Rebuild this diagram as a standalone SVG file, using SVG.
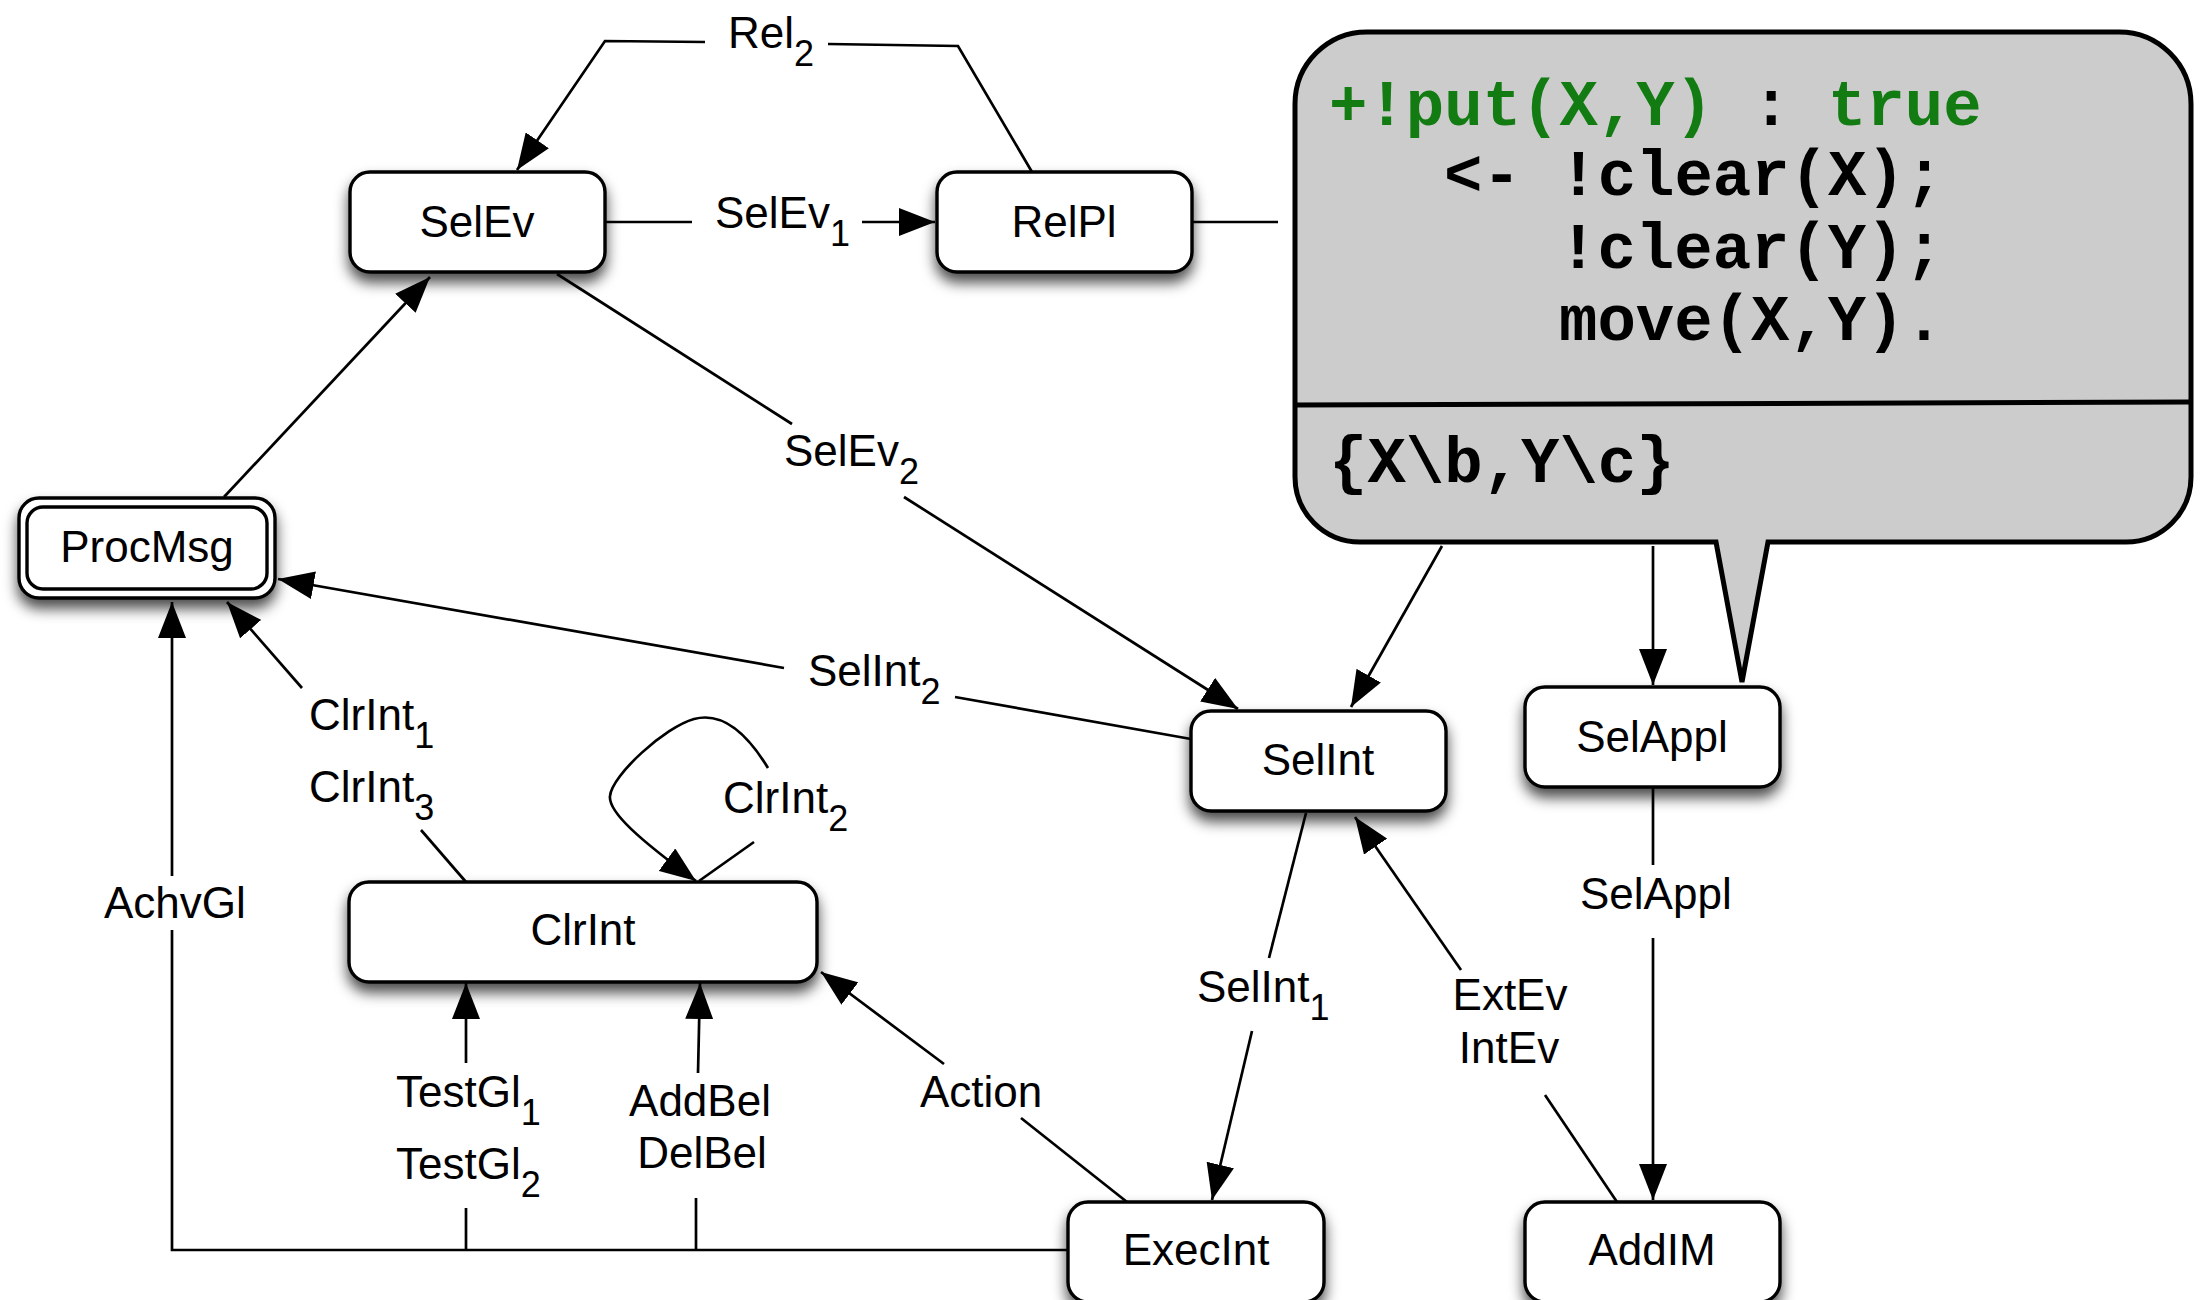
<svg xmlns="http://www.w3.org/2000/svg" width="2204" height="1300" viewBox="0 0 2204 1300">
<defs>
<filter id="sh" x="-20%" y="-30%" width="140%" height="180%">
<feDropShadow dx="0" dy="9" stdDeviation="7" flood-color="#000" flood-opacity="0.7"/>
</filter>
<marker id="ah" viewBox="0 0 36 28" refX="36" refY="14" markerWidth="36" markerHeight="28" markerUnits="userSpaceOnUse" orient="auto">
<path d="M0,0 L36,14 L0,28 z" fill="#000"/>
</marker>
</defs>
<style>
.n rect{fill:#fff;stroke:#000;stroke-width:3.4}
.t{font-family:"Liberation Sans",Arial,sans-serif;font-size:44px;fill:#000}
.c{text-anchor:middle}
.e line,.e polyline,.e path{fill:none;stroke:#000;stroke-width:2.7}
.a{marker-end:url(#ah)}
.s{font-size:36px}
.m{font-family:"Liberation Mono","Courier New",monospace;font-size:64px;font-weight:bold;fill:#000}
.g{fill:#127c12}
</style>
<rect width="2204" height="1300" fill="#fff"/>

<g id="callout">
<path d="M1367,32 H2119 A72,72 0 0 1 2191,104 V477 A65,65 0 0 1 2126,542 H1768 L1742,682 L1716,542 H1360 A65,65 0 0 1 1295,477 V104 A72,72 0 0 1 1367,32 Z" fill="#cccccc" stroke="#000" stroke-width="5"/>
<line x1="1295" y1="405" x2="2191" y2="402" stroke="#000" stroke-width="5"/>
<text class="m" x="1329" y="125"><tspan class="g">+!put(X,Y)</tspan><tspan x="1752">:</tspan><tspan class="g" x="1828">true</tspan></text>
<text class="m" x="1444" y="195">&lt;- !clear(X);</text>
<text class="m" x="1559" y="268">!clear(Y);</text>
<text class="m" x="1559" y="340">move(X,Y).</text>
<text class="m" x="1329" y="482">{X\b,Y\c}</text>
</g>

<g id="connectors" class="e">
<polyline points="1032,172 958,46 828,44"/>
<polyline class="a" points="705,42 605,41 517,170"/>
<line x1="605" y1="222" x2="692" y2="222"/>
<line class="a" x1="862" y1="222" x2="935" y2="222"/>
<line x1="557" y1="274" x2="792" y2="424"/>
<line class="a" x1="904" y1="497" x2="1238" y2="709"/>
<line class="a" x1="224" y1="497" x2="430" y2="277"/>
<line x1="1191" y1="739" x2="955" y2="697"/>
<line class="a" x1="784" y1="668" x2="278" y2="579"/>
<line x1="466" y1="882" x2="421" y2="830"/>
<line class="a" x1="302" y1="688" x2="227" y2="602"/>
<polyline points="1068,1250 172,1250 172,930"/>
<line class="a" x1="172" y1="876" x2="172" y2="602"/>
<line x1="466" y1="1250" x2="466" y2="1208"/>
<line class="a" x1="466" y1="1063" x2="466" y2="983"/>
<line x1="696" y1="1250" x2="696" y2="1198"/>
<line class="a" x1="698" y1="1073" x2="700" y2="983"/>
<line x1="1127" y1="1202" x2="1021" y2="1118"/>
<line class="a" x1="944" y1="1064" x2="821" y2="972"/>
<line x1="1306" y1="813" x2="1269" y2="958"/>
<line class="a" x1="1252" y1="1031" x2="1212" y2="1200"/>
<line x1="1617" y1="1202" x2="1545" y2="1095"/>
<line class="a" x1="1461" y1="970" x2="1355" y2="817"/>
<line x1="1653" y1="787" x2="1653" y2="865"/>
<line class="a" x1="1653" y1="938" x2="1653" y2="1200"/>
<line x1="1192" y1="222" x2="1278" y2="222"/>
<line class="a" x1="1442" y1="546" x2="1351" y2="707"/>
<line class="a" x1="1653" y1="546" x2="1653" y2="685"/>
<line x1="699" y1="881" x2="754" y2="842"/>
<path class="a" d="M768,768 C745,730 720,712 694,719 C665,727 612,775 610,796 C608,812 640,840 696,881"/>
</g>

<g id="labels">
<text class="t" x="728" y="48">Rel<tspan class="s" dy="18">2</tspan></text>
<text class="t" x="715" y="228">SelEv<tspan class="s" dy="18">1</tspan></text>
<text class="t" x="784" y="466">SelEv<tspan class="s" dy="18">2</tspan></text>
<text class="t" x="808" y="686">SelInt<tspan class="s" dy="18">2</tspan></text>
<text class="t" x="309" y="730">ClrInt<tspan class="s" dy="18">1</tspan></text>
<text class="t" x="309" y="802">ClrInt<tspan class="s" dy="18">3</tspan></text>
<text class="t" x="723" y="813">ClrInt<tspan class="s" dy="18">2</tspan></text>
<text class="t" x="104" y="918">AchvGl</text>
<text class="t" x="396" y="1107">TestGl<tspan class="s" dy="18">1</tspan></text>
<text class="t" x="396" y="1179">TestGl<tspan class="s" dy="18">2</tspan></text>
<text class="t c" x="700" y="1116">AddBel</text>
<text class="t c" x="702" y="1168">DelBel</text>
<text class="t" x="920" y="1107">Action</text>
<text class="t" x="1197" y="1002">SelInt<tspan class="s" dy="18">1</tspan></text>
<text class="t c" x="1510" y="1010">ExtEv</text>
<text class="t c" x="1509" y="1063">IntEv</text>
<text class="t" x="1580" y="909">SelAppl</text>
</g>

<g id="SelEv" class="n"><rect x="350" y="172" width="255" height="100" rx="20" filter="url(#sh)"/><text class="t c" x="477" y="237">SelEv</text></g>
<g id="RelPl" class="n"><rect x="937" y="172" width="255" height="100" rx="20" filter="url(#sh)"/><text class="t c" x="1064" y="237">RelPl</text></g>
<g id="ProcMsg" class="n"><rect x="19" y="498" width="256" height="100" rx="20" filter="url(#sh)"/><rect x="27" y="507" width="240" height="82" rx="16"/><text class="t c" x="147" y="562">ProcMsg</text></g>
<g id="SelInt" class="n"><rect x="1191" y="711" width="255" height="100" rx="20" filter="url(#sh)"/><text class="t c" x="1318" y="775">SelInt</text></g>
<g id="SelAppl" class="n"><rect x="1525" y="687" width="255" height="100" rx="20" filter="url(#sh)"/><text class="t c" x="1652" y="752">SelAppl</text></g>
<g id="ClrInt" class="n"><rect x="349" y="882" width="468" height="100" rx="20" filter="url(#sh)"/><text class="t c" x="583" y="945">ClrInt</text></g>
<g id="ExecInt" class="n"><rect x="1068" y="1202" width="256" height="100" rx="20" filter="url(#sh)"/><text class="t c" x="1196" y="1265">ExecInt</text></g>
<g id="AddIM" class="n"><rect x="1525" y="1202" width="255" height="100" rx="20" filter="url(#sh)"/><text class="t c" x="1652" y="1265">AddIM</text></g>
</svg>
